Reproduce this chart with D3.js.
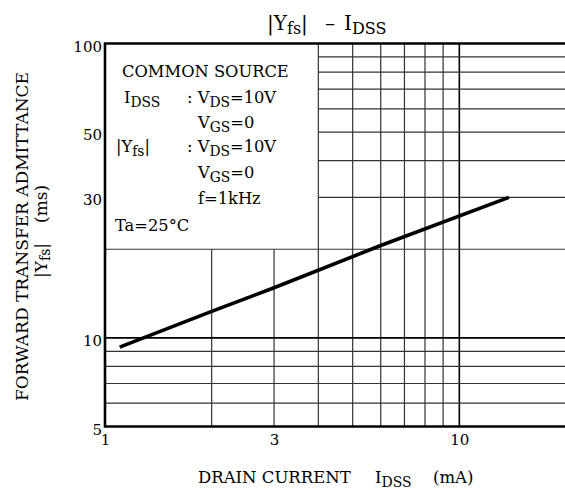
<!DOCTYPE html>
<html><head><meta charset="utf-8">
<script src="https://cdn.jsdelivr.net/npm/d3@7"></script>
<style>body{margin:0;background:#fff}svg{display:block}text{font-family:"DejaVu Serif",serif;fill:#000}</style>
</head><body><svg id="c" width="565" height="490"></svg>
<script>
// data: drain current IDSS (mA) vs forward transfer admittance |Yfs| (mS)
const idss = [1.1, 2, 3, 6, 13.8];
const yfs = [9.3, 12.3, 14.8, 20.6, 30];
const xTickValues = [1, 3, 10];
const yTickValues = [5, 10, 30, 50, 100];
const xGridLow = [2, 3, 4, 5, 6, 7, 8, 9, 10];
const xGridHigh = [4, 5, 6, 7, 8, 9, 10];
const yGridFull = [6, 7, 8, 9, 10, 20];
const yGridRight = [30, 40, 50, 60, 70, 80, 90];

const svg = d3.select("#c");
const L = 105, R = 566, T = 43.5, B = 426.5;
const x = d3.scaleLog().domain([1, 20]).range([L, R]);
const y = d3.scaleLog().domain([5, 100]).range([B, T]);

const g = svg.append("g");
const gc = d => d === 10 ? "#000" : "#333";
const gw = d => d === 10 ? 1.6 : 1.2;
g.selectAll(".vl").data(xGridLow).join("line")
  .attr("x1", d => x(d)).attr("x2", d => x(d)).attr("y1", y(5)).attr("y2", y(20))
  .attr("stroke", gc).attr("stroke-width", gw);
g.selectAll(".vh").data(xGridHigh).join("line")
  .attr("x1", d => x(d)).attr("x2", d => x(d)).attr("y1", y(20)).attr("y2", y(100))
  .attr("stroke", gc).attr("stroke-width", gw);
g.selectAll(".hf").data(yGridFull).join("line")
  .attr("x1", x(1)).attr("x2", R).attr("y1", d => y(d)).attr("y2", d => y(d))
  .attr("stroke", gc).attr("stroke-width", gw);
g.selectAll(".hr").data(yGridRight).join("line")
  .attr("x1", x(4)).attr("x2", R).attr("y1", d => y(d)).attr("y2", d => y(d))
  .attr("stroke", "#333").attr("stroke-width", 1.2);

// frame (top, left, bottom)
svg.append("path")
  .attr("d", `M${R},${T}H${L}V${B}H${R}`)
  .attr("fill", "none").attr("stroke", "#000").attr("stroke-width", 2.6);

// data line
const line = d3.line().x((d, i) => x(idss[i])).y(d => y(d));
svg.append("path").datum(yfs).attr("d", line)
  .attr("fill", "none").attr("stroke", "#000").attr("stroke-width", 3.6);

// axes tick labels
const xAxis = svg.append("g").attr("transform", `translate(0,${B})`)
  .call(d3.axisBottom(x).tickValues(xTickValues).tickFormat(d3.format("d")).tickSize(0).tickPadding(8));
xAxis.select(".domain").remove();
xAxis.selectAll("text").style("font-family", '"DejaVu Serif",serif').style("font-size", "15px").attr("fill", "#000");

const yAxis = svg.append("g").attr("transform", `translate(${L},0)`)
  .call(d3.axisLeft(y).tickValues(yTickValues).tickFormat(d3.format("d")).tickSize(0).tickPadding(3));
yAxis.select(".domain").remove();
yAxis.selectAll("text").style("font-family", '"DejaVu Serif",serif').style("font-size", "15px")
  .attr("fill", "#000").attr("dy", "0.5em");

// title
const title = svg.append("text").attr("y", 30).style("font-size", "20px");
title.append("tspan").attr("x", 267).text("|Y");
title.append("tspan").text("fs").attr("dy", 4).style("font-size", "16px");
title.append("tspan").text("|").attr("dy", -4);
title.append("tspan").attr("x", 325).text("–");
title.append("tspan").attr("x", 344).text("I");
title.append("tspan").text("DSS").attr("dy", 4).style("font-size", "16px");

// annotation
function sub(parts, xx, yy, size) {
  const el = svg.append("text").attr("x", xx).attr("y", yy).style("font-size", size + "px");
  parts.forEach(p => {
    const s = el.append("tspan").text(p[0]);
    if (p[1] === 1) s.attr("dy", 3.5).style("font-size", (size * 0.85) + "px");
    else if (p[1] === -1) s.attr("dy", -3.5);
  });
  return el;
}
const fs = 16.3;
sub([["COMMON SOURCE"]], 122, 77, fs);
sub([["I"], ["DSS", 1]], 124, 103, fs);
sub([[": V"], ["DS", 1], ["=10V", -1]], 187, 103, fs);
sub([["V"], ["GS", 1], ["=0", -1]], 198, 128, fs);
sub([["|Y"], ["fs", 1], ["|", -1]], 116, 152, fs);
sub([[": V"], ["DS", 1], ["=10V", -1]], 187, 152, fs);
sub([["V"], ["GS", 1], ["=0", -1]], 198, 178, fs);
sub([["f=1kHz"]], 198, 204, fs);
sub([["Ta=25°C"]], 115, 231, fs);

// x axis title
const xt = svg.append("text").attr("y", 483).style("font-size", "16.5px");
xt.append("tspan").attr("x", 198).text("DRAIN CURRENT");
xt.append("tspan").attr("x", 375).text("I");
xt.append("tspan").text("DSS").attr("dy", 4).style("font-size", "14px");
xt.append("tspan").attr("x", 433).attr("dy", -4).text("(mA)");

// y axis title
const yt = svg.append("g").attr("transform", "translate(28,236.5) rotate(-90)");
yt.append("text").attr("text-anchor", "middle").style("font-size", "17px").text("FORWARD TRANSFER ADMITTANCE");
const yt2 = yt.append("text").attr("y", 19).style("font-size", "17px");
yt2.append("tspan").attr("x", -41.5).text("|Y");
yt2.append("tspan").text("fs").attr("dy", 3).style("font-size", "14px");
yt2.append("tspan").text("|").attr("dy", -3);
yt2.append("tspan").attr("x", 13.5).text("(ms)");
</script></body></html>
